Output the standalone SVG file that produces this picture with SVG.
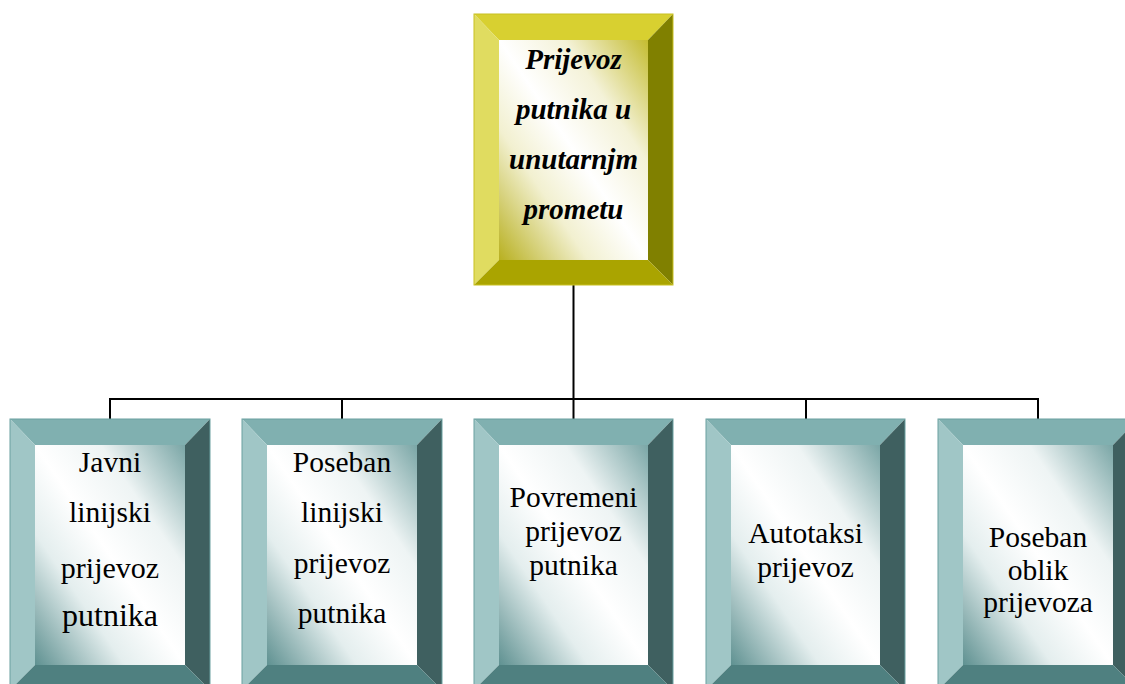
<svg xmlns="http://www.w3.org/2000/svg" width="1125" height="684" viewBox="0 0 1125 684">
<defs>
<linearGradient id="gTeal" x1="0" y1="1" x2="1" y2="0">
<stop offset="0" stop-color="#5f9191"/>
<stop offset="0.3" stop-color="#e4eeee"/>
<stop offset="0.5" stop-color="#ffffff"/>
<stop offset="0.72" stop-color="#eef4f4"/>
<stop offset="1" stop-color="#7aa6a6"/>
</linearGradient>
<linearGradient id="gYel" x1="0" y1="1" x2="1" y2="0">
<stop offset="0" stop-color="#b8b020"/>
<stop offset="0.3" stop-color="#f2f0d0"/>
<stop offset="0.5" stop-color="#ffffff"/>
<stop offset="0.72" stop-color="#f4f2d8"/>
<stop offset="1" stop-color="#c4bc30"/>
</linearGradient>
<style>
.t-top{fill:#80b0b0}.t-left{fill:#a0c6c6}.t-right{fill:#3f6060}.t-bot{fill:#4f8080}
.y-top{fill:#d8d030}.y-left{fill:#e0dc60}.y-right{fill:#808000}.y-bot{fill:#aaa400}
.tout{fill:none;stroke:#6aa0a0;stroke-width:1}
.yout{fill:none;stroke:#c8c020;stroke-width:1}
.lbl{font-family:"Liberation Serif","Times New Roman",serif;font-size:29.5px;fill:#000;text-anchor:middle}
.ttl{font-family:"Liberation Serif","Times New Roman",serif;font-size:29px;font-weight:bold;font-style:italic;fill:#000;text-anchor:middle}
.conn{stroke:#000;stroke-width:2;fill:none}
</style>
</defs>
<g id="connectors">
<line class="conn" x1="573.5" y1="285" x2="573.5" y2="399"/>
<line class="conn" x1="110" y1="399" x2="1038" y2="399"/>
<line class="conn" x1="110" y1="398" x2="110" y2="419"/>
<line class="conn" x1="342" y1="398" x2="342" y2="419"/>
<line class="conn" x1="573.5" y1="398" x2="573.5" y2="419"/>
<line class="conn" x1="806" y1="398" x2="806" y2="419"/>
<line class="conn" x1="1038" y1="398" x2="1038" y2="419"/>
</g>
<g id="top">
<polygon class="y-top" points="474,14 673,14 648,40 499,40"/>
<polygon class="y-left" points="474,14 499,40 499,260 474,285"/>
<polygon class="y-right" points="673,14 673,285 648,260 648,40"/>
<polygon class="y-bot" points="474,285 499,260 648,260 673,285"/>
<rect x="499" y="40" width="149" height="220" fill="url(#gYel)"/>
<rect class="yout" x="474" y="14" width="199" height="271"/>
<text class="ttl" x="573.5" y="69">Prijevoz</text>
<text class="ttl" x="573.5" y="119">putnika u</text>
<text class="ttl" x="573.5" y="169">unutarnjm</text>
<text class="ttl" x="573.5" y="219">prometu</text>
</g>
<g id="n1">
<polygon class="t-top" points="10,419 210,419 185,445 35,445"/>
<polygon class="t-left" points="10,419 35,445 35,665 10,690"/>
<polygon class="t-right" points="210,419 210,690 185,665 185,445"/>
<polygon class="t-bot" points="10,690 35,665 185,665 210,690"/>
<rect x="35" y="445" width="150" height="220" fill="url(#gTeal)"/>
<rect class="tout" x="10" y="419" width="200" height="271"/>
<text class="lbl" x="110" y="472">Javni</text>
<text class="lbl" x="110" y="522">linijski</text>
<text class="lbl" x="110" y="578" style="font-size:30px">prijevoz</text>
<text class="lbl" x="110" y="626" style="font-size:32px">putnika</text>
</g>
<g id="n2">
<polygon class="t-top" points="242,419 442,419 417,445 267,445"/>
<polygon class="t-left" points="242,419 267,445 267,665 242,690"/>
<polygon class="t-right" points="442,419 442,690 417,665 417,445"/>
<polygon class="t-bot" points="242,690 267,665 417,665 442,690"/>
<rect x="267" y="445" width="150" height="220" fill="url(#gTeal)"/>
<rect class="tout" x="242" y="419" width="200" height="271"/>
<text class="lbl" x="342" y="472">Poseban</text>
<text class="lbl" x="342" y="522">linijski</text>
<text class="lbl" x="342" y="573">prijevoz</text>
<text class="lbl" x="342" y="623">putnika</text>
</g>
<g id="n3">
<polygon class="t-top" points="474,419 673,419 648,445 499,445"/>
<polygon class="t-left" points="474,419 499,445 499,665 474,690"/>
<polygon class="t-right" points="673,419 673,690 648,665 648,445"/>
<polygon class="t-bot" points="474,690 499,665 648,665 673,690"/>
<rect x="499" y="445" width="149" height="220" fill="url(#gTeal)"/>
<rect class="tout" x="474" y="419" width="199" height="271"/>
<text class="lbl" x="573.5" y="507">Povremeni</text>
<text class="lbl" x="573.5" y="541">prijevoz</text>
<text class="lbl" x="573.5" y="575">putnika</text>
</g>
<g id="n4">
<polygon class="t-top" points="706,419 905,419 880,445 731,445"/>
<polygon class="t-left" points="706,419 731,445 731,665 706,690"/>
<polygon class="t-right" points="905,419 905,690 880,665 880,445"/>
<polygon class="t-bot" points="706,690 731,665 880,665 905,690"/>
<rect x="731" y="445" width="149" height="220" fill="url(#gTeal)"/>
<rect class="tout" x="706" y="419" width="199" height="271"/>
<text class="lbl" x="805.5" y="543">Autotaksi</text>
<text class="lbl" x="805.5" y="577">prijevoz</text>
</g>
<g id="n5">
<polygon class="t-top" points="938,419 1138,419 1113,445 963,445"/>
<polygon class="t-left" points="938,419 963,445 963,665 938,690"/>
<polygon class="t-right" points="1138,419 1138,690 1113,665 1113,445"/>
<polygon class="t-bot" points="938,690 963,665 1113,665 1138,690"/>
<rect x="963" y="445" width="150" height="220" fill="url(#gTeal)"/>
<rect class="tout" x="938" y="419" width="200" height="271"/>
<text class="lbl" x="1038" y="547">Poseban</text>
<text class="lbl" x="1038" y="580">oblik</text>
<text class="lbl" x="1038" y="612">prijevoza</text>
</g>
</svg>
